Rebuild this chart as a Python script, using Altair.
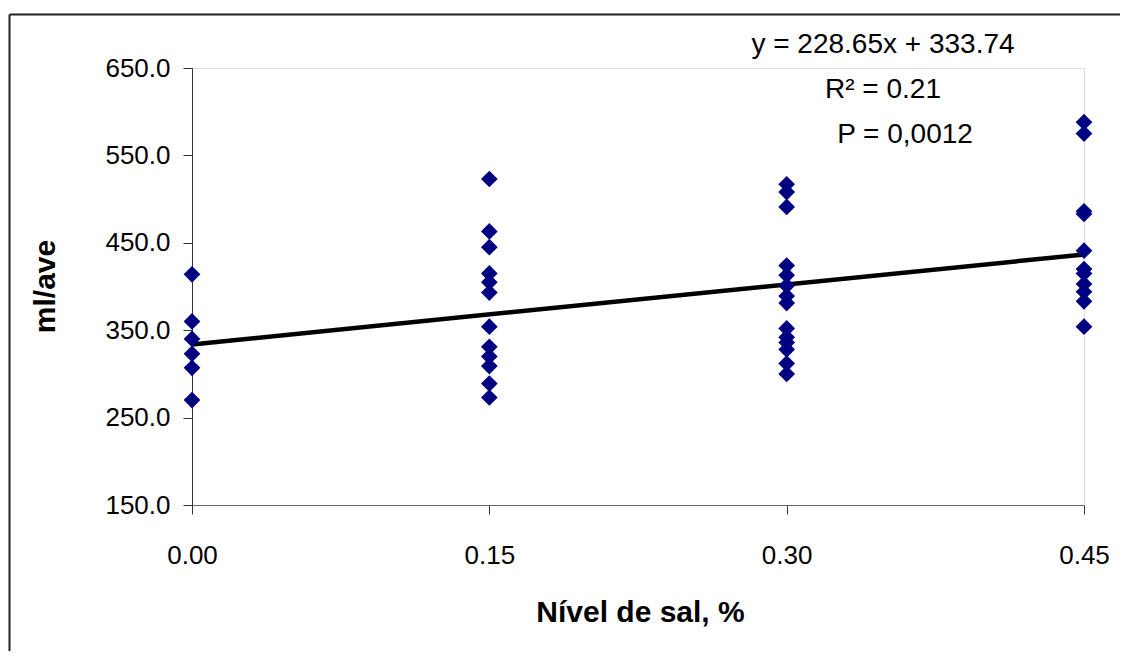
import altair as alt
import pandas as pd

# salt level (%) and values (ml/ave)
x_levels = [0.00] * 6 + [0.15] * 12 + [0.30] * 14 + [0.45] * 11
y_values = (
    [414, 360, 340, 323, 307, 270]
    + [523, 463, 445, 415, 405, 393, 354, 331, 320, 309, 289, 273]
    + [517, 508, 491, 424, 413, 401, 389, 381, 352, 342, 336, 328, 312, 300]
    + [588, 575, 486, 483, 441, 420, 415, 403, 394, 383, 354]
)

# trend line end points (y = 228.65x + 333.74)
line_x = [0.00, 0.45]
line_y = [333.74, 436.63]

x_ticks = [0.00, 0.15, 0.30, 0.45]
y_ticks = [150, 250, 350, 450, 550, 650]

pts = pd.DataFrame({"x": x_levels, "y": y_values})
ln = pd.DataFrame({"x": line_x, "y": line_y})

FONT = "Liberation Sans"
W, H = 892, 437

xs = alt.Scale(domain=[0, 0.45], nice=False, zero=False)
ys = alt.Scale(domain=[150, 650], nice=False, zero=False)

x_axis = alt.Axis(
    values=x_ticks, format=".2f", title="Nível de sal, %", grid=False,
    tickSize=9, labelPadding=28, labelFontSize=26, labelFont=FONT, labelColor="black",
    titleFont=FONT, titleFontSize=30, titleFontWeight="bold", titleColor="black",
    titleX=448, titleY=107, titleBaseline="middle", titleAlign="center",
    domainColor="#666666", tickColor="#333333", labelFlush=False, labelOverlap=False,
)
y_axis = alt.Axis(
    values=y_ticks, format=".1f", title="ml/ave", grid=False,
    tickSize=9, labelPadding=13, labelFontSize=26, labelFont=FONT, labelColor="black",
    titleFont=FONT, titleFontSize=30, titleFontWeight="bold", titleColor="black",
    titleX=-147, titleY=218, titleAngle=-90, titleBaseline="middle", titleAlign="center",
    domainColor="#333333", tickColor="#333333", labelOverlap=False,
)

points = alt.Chart(pts).mark_point(
    shape="diamond", filled=True, color="#000080", size=280, opacity=1
).encode(
    x=alt.X("x:Q", scale=xs, axis=x_axis),
    y=alt.Y("y:Q", scale=ys, axis=y_axis),
)

trend = alt.Chart(ln).mark_line(color="black", strokeWidth=4.5).encode(
    x=alt.X("x:Q", scale=xs),
    y=alt.Y("y:Q", scale=ys),
)

def label(txt, px, py):
    return alt.Chart(pd.DataFrame({"t": [txt]})).mark_text(
        font=FONT, fontSize=28, color="black", align="center", baseline="middle"
    ).encode(text="t:N", x=alt.value(px), y=alt.value(py))

eq = label("y = 228.65x + 333.74", 691, -23)
r2 = label("R² = 0.21", 691, 22)
pv = label("P = 0,0012", 713, 67)

frame_left = alt.Chart(pd.DataFrame({"a": [0]})).mark_rule(color="#222222", strokeWidth=2).encode(
    x=alt.value(-182.5), y=alt.value(-53.5), y2=alt.value(600)
)
frame_top = alt.Chart(pd.DataFrame({"a": [0]})).mark_rule(color="#222222", strokeWidth=2).encode(
    x=alt.value(-182.5), x2=alt.value(960), y=alt.value(-53.5)
)

chart = alt.layer(frame_left, frame_top, trend, points, eq, r2, pv).properties(
    width=W, height=H,
    autosize=alt.AutoSizeParams(type="none"),
    padding={"left": 184, "top": 60, "right": 36, "bottom": 146},
).configure_view(stroke=None).configure(background="white")

chart.save("out.html", embed_options={"renderer": "svg", "actions": False})
